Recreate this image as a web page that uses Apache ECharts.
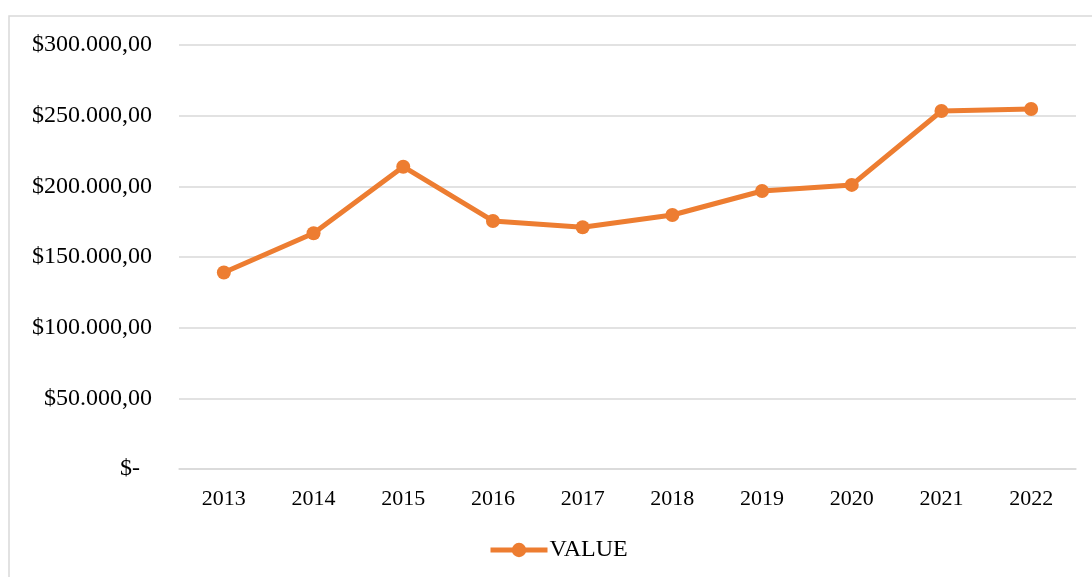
<!DOCTYPE html>
<html>
<head>
<meta charset="utf-8">
<script src="https://cdn.jsdelivr.net/npm/echarts@6/dist/echarts.min.js"></script>
<style>
  html, body { margin: 0; padding: 0; background: #fff; }
  #box { width: 1092px; height: 577px; }
</style>
</head>
<body>
<div id="box"></div>
<script>
const aYears = ['2013', '2014', '2015', '2016', '2017', '2018', '2019', '2020', '2021', '2022'];
const aValue = [139000, 166800, 213900, 175500, 171000, 179700, 196700, 201000, 253300, 254700];
const sSeriesName = 'VALUE';

const sFont = '"Liberation Serif", "Times New Roman", serif';
const sOrange = '#ED7D31';
const sGrey = '#d9d9d9';

// 会计格式：$300.000,00，0 显示为 $-
function fmtMoney(v){
    if (v === 0) return '$-  ';
    const sInt = String(Math.round(v)).replace(/\B(?=(\d{3})+(?!\d))/g, '.');
    return `$${sInt},00`;
}

const myChart = echarts.init(document.getElementById('box'), null, { renderer: 'canvas' });

const option = {
    backgroundColor: '#fff',
    animation: false,
    textStyle: { fontFamily: sFont },
    graphic: [{
        type: 'rect',
        shape: { x: 9, y: 16, width: 1100, height: 600 },
        style: { fill: 'none', stroke: sGrey, lineWidth: 1.5 },
        silent: true,
        z: -1,
    }],
    grid: { left: 179, right: 16, top: 45, bottom: 108 },
    legend: {
        data: [sSeriesName],
        left: 483,
        bottom: 10,
        itemWidth: 57,
        itemHeight: 18,
        itemGap: 4,
        lineStyle: { width: 5 },
        textStyle: { fontFamily: sFont, fontSize: 24, color: '#000', padding: [0, 0, 0, -3] },
    },
    xAxis: {
        type: 'category',
        data: aYears,
        boundaryGap: true,
        axisLine: { lineStyle: { color: sGrey, width: 1.5 } },
        axisTick: { show: false },
        axisLabel: { fontFamily: sFont, fontSize: 22, color: '#000', margin: 19 },
    },
    yAxis: {
        type: 'value',
        min: 0,
        max: 300000,
        interval: 50000,
        axisLine: { show: false },
        axisTick: { show: false },
        splitLine: { lineStyle: { color: sGrey, width: 1.5 } },
        axisLabel: { fontFamily: sFont, fontSize: 24, color: '#000', margin: 27, formatter: fmtMoney },
    },
    series: [{
        name: sSeriesName,
        type: 'line',
        data: aValue,
        symbol: 'circle',
        symbolSize: 14,
        lineStyle: { color: sOrange, width: 5 },
        itemStyle: { color: sOrange },
    }],
};

myChart.setOption(option);
</script>
</body>
</html>
